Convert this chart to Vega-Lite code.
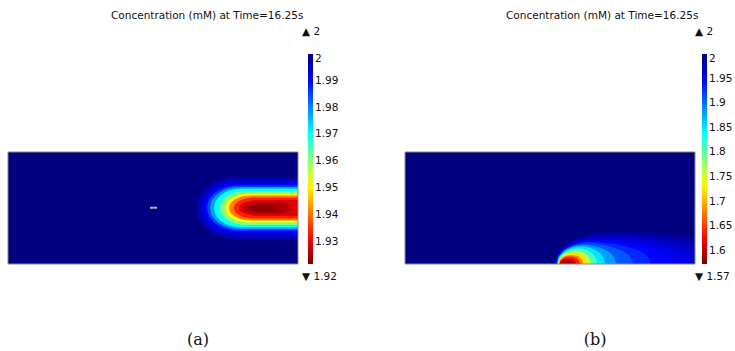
{
  "$schema": "https://vega.github.io/schema/vega-lite/v6.json",
  "autosize": {"type": "pad"},
  "padding": {"left": 7, "top": 11, "right": 0, "bottom": 0},
  "background": "white",
  "config": {
    "view": {"stroke": null},
    "font": "DejaVu Sans",
    "legend": {"orient": "right", "padding": 0, "gradientLength": 210, "gradientThickness": 5, "gradientStrokeWidth": 0, "labelFont": "DejaVu Sans", "labelFontSize": 10.5, "labelColor": "#111", "labelOffset": 1, "labelOverlap": false, "direction": "vertical"}
  },
  "datasets": {
    "frame": [{"x": 0, "x2": 10, "y": 0, "y2": 4, "c": 2}],
    "a": [
      {"l": 1, "c": 1.996, "x": 6.5, "lo": 2, "hi": 2},
      {"l": 1, "c": 1.996, "x": 6.555, "lo": 1.69, "hi": 2.31},
      {"l": 1, "c": 1.996, "x": 6.707, "lo": 1.417, "hi": 2.583},
      {"l": 1, "c": 1.996, "x": 6.983, "lo": 1.159, "hi": 2.841},
      {"l": 1, "c": 1.996, "x": 7.396, "lo": 0.963, "hi": 3.037},
      {"l": 1, "c": 1.996, "x": 7.879, "lo": 0.893, "hi": 3.107},
      {"l": 1, "c": 1.996, "x": 10.5, "lo": 0.893, "hi": 3.107},
      {"l": 2, "c": 1.993, "x": 6.655, "lo": 2, "hi": 2},
      {"l": 2, "c": 1.993, "x": 6.705, "lo": 1.73, "hi": 2.27},
      {"l": 2, "c": 1.993, "x": 6.841, "lo": 1.492, "hi": 2.508},
      {"l": 2, "c": 1.993, "x": 7.089, "lo": 1.267, "hi": 2.733},
      {"l": 2, "c": 1.993, "x": 7.462, "lo": 1.097, "hi": 2.903},
      {"l": 2, "c": 1.993, "x": 7.896, "lo": 1.036, "hi": 2.964},
      {"l": 2, "c": 1.993, "x": 10.5, "lo": 1.036, "hi": 2.964},
      {"l": 3, "c": 1.99, "x": 6.759, "lo": 2, "hi": 2},
      {"l": 3, "c": 1.99, "x": 6.805, "lo": 1.755, "hi": 2.245},
      {"l": 3, "c": 1.99, "x": 6.93, "lo": 1.539, "hi": 2.461},
      {"l": 3, "c": 1.99, "x": 7.157, "lo": 1.335, "hi": 2.665},
      {"l": 3, "c": 1.99, "x": 7.499, "lo": 1.18, "hi": 2.82},
      {"l": 3, "c": 1.99, "x": 7.897, "lo": 1.125, "hi": 2.875},
      {"l": 3, "c": 1.99, "x": 10.5, "lo": 1.125, "hi": 2.875},
      {"l": 4, "c": 1.985, "x": 6.862, "lo": 2, "hi": 2},
      {"l": 4, "c": 1.985, "x": 6.905, "lo": 1.775, "hi": 2.225},
      {"l": 4, "c": 1.985, "x": 7.022, "lo": 1.576, "hi": 2.424},
      {"l": 4, "c": 1.985, "x": 7.236, "lo": 1.389, "hi": 2.611},
      {"l": 4, "c": 1.985, "x": 7.557, "lo": 1.247, "hi": 2.753},
      {"l": 4, "c": 1.985, "x": 7.931, "lo": 1.196, "hi": 2.804},
      {"l": 4, "c": 1.985, "x": 10.5, "lo": 1.196, "hi": 2.804},
      {"l": 5, "c": 1.978, "x": 6.966, "lo": 2, "hi": 2},
      {"l": 5, "c": 1.978, "x": 7.007, "lo": 1.79, "hi": 2.21},
      {"l": 5, "c": 1.978, "x": 7.121, "lo": 1.605, "hi": 2.395},
      {"l": 5, "c": 1.978, "x": 7.328, "lo": 1.43, "hi": 2.57},
      {"l": 5, "c": 1.978, "x": 7.638, "lo": 1.297, "hi": 2.703},
      {"l": 5, "c": 1.978, "x": 8.0, "lo": 1.25, "hi": 2.75},
      {"l": 5, "c": 1.978, "x": 10.5, "lo": 1.25, "hi": 2.75},
      {"l": 6, "c": 1.97, "x": 7.103, "lo": 2, "hi": 2},
      {"l": 6, "c": 1.97, "x": 7.142, "lo": 1.805, "hi": 2.195},
      {"l": 6, "c": 1.97, "x": 7.248, "lo": 1.633, "hi": 2.367},
      {"l": 6, "c": 1.97, "x": 7.441, "lo": 1.471, "hi": 2.529},
      {"l": 6, "c": 1.97, "x": 7.731, "lo": 1.348, "hi": 2.652},
      {"l": 6, "c": 1.97, "x": 8.069, "lo": 1.304, "hi": 2.696},
      {"l": 6, "c": 1.97, "x": 10.5, "lo": 1.304, "hi": 2.696},
      {"l": 7, "c": 1.961, "x": 7.31, "lo": 2, "hi": 2},
      {"l": 7, "c": 1.961, "x": 7.346, "lo": 1.83, "hi": 2.17},
      {"l": 7, "c": 1.961, "x": 7.445, "lo": 1.68, "hi": 2.32},
      {"l": 7, "c": 1.961, "x": 7.624, "lo": 1.539, "hi": 2.461},
      {"l": 7, "c": 1.961, "x": 7.893, "lo": 1.431, "hi": 2.569},
      {"l": 7, "c": 1.961, "x": 8.207, "lo": 1.393, "hi": 2.607},
      {"l": 7, "c": 1.961, "x": 10.5, "lo": 1.393, "hi": 2.607},
      {"l": 8, "c": 1.951, "x": 7.483, "lo": 2, "hi": 2},
      {"l": 8, "c": 1.951, "x": 7.516, "lo": 1.855, "hi": 2.145},
      {"l": 8, "c": 1.951, "x": 7.607, "lo": 1.727, "hi": 2.273},
      {"l": 8, "c": 1.951, "x": 7.773, "lo": 1.606, "hi": 2.394},
      {"l": 8, "c": 1.951, "x": 8.021, "lo": 1.515, "hi": 2.485},
      {"l": 8, "c": 1.951, "x": 8.311, "lo": 1.482, "hi": 2.518},
      {"l": 8, "c": 1.951, "x": 10.5, "lo": 1.482, "hi": 2.518},
      {"l": 9, "c": 1.941, "x": 7.621, "lo": 2, "hi": 2},
      {"l": 9, "c": 1.941, "x": 7.651, "lo": 1.875, "hi": 2.125},
      {"l": 9, "c": 1.941, "x": 7.735, "lo": 1.765, "hi": 2.235},
      {"l": 9, "c": 1.941, "x": 7.887, "lo": 1.661, "hi": 2.339},
      {"l": 9, "c": 1.941, "x": 8.114, "lo": 1.582, "hi": 2.418},
      {"l": 9, "c": 1.941, "x": 8.38, "lo": 1.554, "hi": 2.446},
      {"l": 9, "c": 1.941, "x": 10.5, "lo": 1.554, "hi": 2.446},
      {"l": 10, "c": 1.934, "x": 7.793, "lo": 2, "hi": 2},
      {"l": 10, "c": 1.934, "x": 7.821, "lo": 1.895, "hi": 2.105},
      {"l": 10, "c": 1.934, "x": 7.897, "lo": 1.802, "hi": 2.198},
      {"l": 10, "c": 1.934, "x": 8.035, "lo": 1.715, "hi": 2.285},
      {"l": 10, "c": 1.934, "x": 8.242, "lo": 1.649, "hi": 2.351},
      {"l": 10, "c": 1.934, "x": 8.483, "lo": 1.625, "hi": 2.375},
      {"l": 10, "c": 1.934, "x": 10.5, "lo": 1.625, "hi": 2.375},
      {"l": 11, "c": 1.929, "x": 7.966, "lo": 2, "hi": 2},
      {"l": 11, "c": 1.929, "x": 7.994, "lo": 1.92, "hi": 2.08},
      {"l": 11, "c": 1.929, "x": 8.07, "lo": 1.849, "hi": 2.151},
      {"l": 11, "c": 1.929, "x": 8.208, "lo": 1.783, "hi": 2.217},
      {"l": 11, "c": 1.929, "x": 8.415, "lo": 1.732, "hi": 2.268},
      {"l": 11, "c": 1.929, "x": 8.656, "lo": 1.714, "hi": 2.286},
      {"l": 11, "c": 1.929, "x": 10.5, "lo": 1.714, "hi": 2.286},
      {"l": 12, "c": 1.925, "x": 8.103, "lo": 2, "hi": 2},
      {"l": 12, "c": 1.925, "x": 8.128, "lo": 1.945, "hi": 2.055},
      {"l": 12, "c": 1.925, "x": 8.196, "lo": 1.897, "hi": 2.103},
      {"l": 12, "c": 1.925, "x": 8.32, "lo": 1.851, "hi": 2.149},
      {"l": 12, "c": 1.925, "x": 8.507, "lo": 1.816, "hi": 2.184},
      {"l": 12, "c": 1.925, "x": 8.724, "lo": 1.804, "hi": 2.196},
      {"l": 12, "c": 1.925, "x": 9.241, "lo": 1.804, "hi": 2.196},
      {"l": 12, "c": 1.925, "x": 9.422, "lo": 1.816, "hi": 2.184},
      {"l": 12, "c": 1.925, "x": 9.578, "lo": 1.851, "hi": 2.149},
      {"l": 12, "c": 1.925, "x": 9.681, "lo": 1.897, "hi": 2.103},
      {"l": 12, "c": 1.925, "x": 9.738, "lo": 1.945, "hi": 2.055},
      {"l": 12, "c": 1.925, "x": 9.759, "lo": 2, "hi": 2},
      {"l": 13, "c": 1.9225, "x": 8.31, "lo": 2, "hi": 2},
      {"l": 13, "c": 1.9225, "x": 8.327, "lo": 1.965, "hi": 2.035},
      {"l": 13, "c": 1.9225, "x": 8.372, "lo": 1.934, "hi": 2.066},
      {"l": 13, "c": 1.9225, "x": 8.455, "lo": 1.905, "hi": 2.095},
      {"l": 13, "c": 1.9225, "x": 8.579, "lo": 1.883, "hi": 2.117},
      {"l": 13, "c": 1.9225, "x": 8.724, "lo": 1.875, "hi": 2.125},
      {"l": 13, "c": 1.9225, "x": 8.793, "lo": 1.875, "hi": 2.125},
      {"l": 13, "c": 1.9225, "x": 8.938, "lo": 1.883, "hi": 2.117},
      {"l": 13, "c": 1.9225, "x": 9.062, "lo": 1.905, "hi": 2.095},
      {"l": 13, "c": 1.9225, "x": 9.145, "lo": 1.934, "hi": 2.066},
      {"l": 13, "c": 1.9225, "x": 9.19, "lo": 1.965, "hi": 2.035},
      {"l": 13, "c": 1.9225, "x": 9.207, "lo": 2, "hi": 2}
    ],
    "b": [
      {"l": 1, "c": 1.985, "x": 5.138, "hi": 0},
      {"l": 1, "c": 1.985, "x": 5.217, "hi": 0.32},
      {"l": 1, "c": 1.985, "x": 5.433, "hi": 0.602},
      {"l": 1, "c": 1.985, "x": 5.826, "hi": 0.869},
      {"l": 1, "c": 1.985, "x": 6.416, "hi": 1.071},
      {"l": 1, "c": 1.985, "x": 7.103, "hi": 1.143},
      {"l": 1, "c": 1.985, "x": 8.914, "hi": 1.071},
      {"l": 1, "c": 1.985, "x": 10.466, "hi": 0.869},
      {"l": 1, "c": 1.985, "x": 11.5, "hi": 0.602},
      {"l": 1, "c": 1.985, "x": 12.069, "hi": 0.32},
      {"l": 1, "c": 1.985, "x": 12.276, "hi": 0},
      {"l": 2, "c": 1.975, "x": 5.172, "hi": 0},
      {"l": 2, "c": 1.975, "x": 5.243, "hi": 0.29},
      {"l": 2, "c": 1.975, "x": 5.436, "hi": 0.546},
      {"l": 2, "c": 1.975, "x": 5.788, "hi": 0.787},
      {"l": 2, "c": 1.975, "x": 6.316, "hi": 0.971},
      {"l": 2, "c": 1.975, "x": 6.931, "hi": 1.036},
      {"l": 2, "c": 1.975, "x": 8.5, "hi": 0.971},
      {"l": 2, "c": 1.975, "x": 9.845, "hi": 0.787},
      {"l": 2, "c": 1.975, "x": 10.741, "hi": 0.546},
      {"l": 2, "c": 1.975, "x": 11.234, "hi": 0.29},
      {"l": 2, "c": 1.975, "x": 11.414, "hi": 0},
      {"l": 3, "c": 1.965, "x": 5.19, "hi": 0},
      {"l": 3, "c": 1.965, "x": 5.252, "hi": 0.27},
      {"l": 3, "c": 1.965, "x": 5.425, "hi": 0.508},
      {"l": 3, "c": 1.965, "x": 5.739, "hi": 0.733},
      {"l": 3, "c": 1.965, "x": 6.21, "hi": 0.903},
      {"l": 3, "c": 1.965, "x": 6.759, "hi": 0.964},
      {"l": 3, "c": 1.965, "x": 8.086, "hi": 0.903},
      {"l": 3, "c": 1.965, "x": 9.224, "hi": 0.733},
      {"l": 3, "c": 1.965, "x": 9.983, "hi": 0.508},
      {"l": 3, "c": 1.965, "x": 10.4, "hi": 0.27},
      {"l": 3, "c": 1.965, "x": 10.552, "hi": 0},
      {"l": 4, "c": 1.955, "x": 5.207, "hi": 0},
      {"l": 4, "c": 1.955, "x": 5.262, "hi": 0.25},
      {"l": 4, "c": 1.955, "x": 5.414, "hi": 0.471},
      {"l": 4, "c": 1.955, "x": 5.69, "hi": 0.679},
      {"l": 4, "c": 1.955, "x": 6.103, "hi": 0.837},
      {"l": 4, "c": 1.955, "x": 6.586, "hi": 0.893},
      {"l": 4, "c": 1.955, "x": 7.733, "hi": 0.837},
      {"l": 4, "c": 1.955, "x": 8.716, "hi": 0.679},
      {"l": 4, "c": 1.955, "x": 9.371, "hi": 0.471},
      {"l": 4, "c": 1.955, "x": 9.731, "hi": 0.25},
      {"l": 4, "c": 1.955, "x": 9.862, "hi": 0},
      {"l": 5, "c": 1.945, "x": 5.207, "hi": 0},
      {"l": 5, "c": 1.945, "x": 5.258, "hi": 0.235},
      {"l": 5, "c": 1.945, "x": 5.398, "hi": 0.442},
      {"l": 5, "c": 1.945, "x": 5.653, "hi": 0.638},
      {"l": 5, "c": 1.945, "x": 6.036, "hi": 0.786},
      {"l": 5, "c": 1.945, "x": 6.483, "hi": 0.839},
      {"l": 5, "c": 1.945, "x": 7.424, "hi": 0.786},
      {"l": 5, "c": 1.945, "x": 8.231, "hi": 0.638},
      {"l": 5, "c": 1.945, "x": 8.769, "hi": 0.442},
      {"l": 5, "c": 1.945, "x": 9.066, "hi": 0.235},
      {"l": 5, "c": 1.945, "x": 9.172, "hi": 0},
      {"l": 6, "c": 1.93, "x": 5.224, "hi": 0},
      {"l": 6, "c": 1.93, "x": 5.269, "hi": 0.22},
      {"l": 6, "c": 1.93, "x": 5.392, "hi": 0.414},
      {"l": 6, "c": 1.93, "x": 5.617, "hi": 0.597},
      {"l": 6, "c": 1.93, "x": 5.953, "hi": 0.736},
      {"l": 6, "c": 1.93, "x": 6.345, "hi": 0.786},
      {"l": 6, "c": 1.93, "x": 7.093, "hi": 0.736},
      {"l": 6, "c": 1.93, "x": 7.734, "hi": 0.597},
      {"l": 6, "c": 1.93, "x": 8.162, "hi": 0.414},
      {"l": 6, "c": 1.93, "x": 8.397, "hi": 0.22},
      {"l": 6, "c": 1.93, "x": 8.483, "hi": 0},
      {"l": 7, "c": 1.91, "x": 5.241, "hi": 0},
      {"l": 7, "c": 1.91, "x": 5.281, "hi": 0.205},
      {"l": 7, "c": 1.91, "x": 5.391, "hi": 0.386},
      {"l": 7, "c": 1.91, "x": 5.591, "hi": 0.556},
      {"l": 7, "c": 1.91, "x": 5.891, "hi": 0.686},
      {"l": 7, "c": 1.91, "x": 6.241, "hi": 0.732},
      {"l": 7, "c": 1.91, "x": 6.809, "hi": 0.686},
      {"l": 7, "c": 1.91, "x": 7.295, "hi": 0.556},
      {"l": 7, "c": 1.91, "x": 7.619, "hi": 0.386},
      {"l": 7, "c": 1.91, "x": 7.797, "hi": 0.205},
      {"l": 7, "c": 1.91, "x": 7.862, "hi": 0},
      {"l": 8, "c": 1.88, "x": 5.241, "hi": 0},
      {"l": 8, "c": 1.88, "x": 5.277, "hi": 0.19},
      {"l": 8, "c": 1.88, "x": 5.376, "hi": 0.358},
      {"l": 8, "c": 1.88, "x": 5.555, "hi": 0.516},
      {"l": 8, "c": 1.88, "x": 5.824, "hi": 0.636},
      {"l": 8, "c": 1.88, "x": 6.138, "hi": 0.679},
      {"l": 8, "c": 1.88, "x": 6.536, "hi": 0.636},
      {"l": 8, "c": 1.88, "x": 6.878, "hi": 0.516},
      {"l": 8, "c": 1.88, "x": 7.105, "hi": 0.358},
      {"l": 8, "c": 1.88, "x": 7.231, "hi": 0.19},
      {"l": 8, "c": 1.88, "x": 7.276, "hi": 0},
      {"l": 9, "c": 1.85, "x": 5.259, "hi": 0},
      {"l": 9, "c": 1.85, "x": 5.291, "hi": 0.175},
      {"l": 9, "c": 1.85, "x": 5.38, "hi": 0.329},
      {"l": 9, "c": 1.85, "x": 5.542, "hi": 0.475},
      {"l": 9, "c": 1.85, "x": 5.786, "hi": 0.586},
      {"l": 9, "c": 1.85, "x": 6.069, "hi": 0.625},
      {"l": 9, "c": 1.85, "x": 6.359, "hi": 0.586},
      {"l": 9, "c": 1.85, "x": 6.607, "hi": 0.475},
      {"l": 9, "c": 1.85, "x": 6.772, "hi": 0.329},
      {"l": 9, "c": 1.85, "x": 6.863, "hi": 0.175},
      {"l": 9, "c": 1.85, "x": 6.897, "hi": 0},
      {"l": 10, "c": 1.81, "x": 5.276, "hi": 0},
      {"l": 10, "c": 1.81, "x": 5.305, "hi": 0.155},
      {"l": 10, "c": 1.81, "x": 5.384, "hi": 0.292},
      {"l": 10, "c": 1.81, "x": 5.529, "hi": 0.421},
      {"l": 10, "c": 1.81, "x": 5.747, "hi": 0.519},
      {"l": 10, "c": 1.81, "x": 6.0, "hi": 0.554},
      {"l": 10, "c": 1.81, "x": 6.217, "hi": 0.519},
      {"l": 10, "c": 1.81, "x": 6.403, "hi": 0.421},
      {"l": 10, "c": 1.81, "x": 6.528, "hi": 0.292},
      {"l": 10, "c": 1.81, "x": 6.596, "hi": 0.155},
      {"l": 10, "c": 1.81, "x": 6.621, "hi": 0},
      {"l": 11, "c": 1.76, "x": 5.276, "hi": 0},
      {"l": 11, "c": 1.76, "x": 5.301, "hi": 0.13},
      {"l": 11, "c": 1.76, "x": 5.369, "hi": 0.245},
      {"l": 11, "c": 1.76, "x": 5.493, "hi": 0.353},
      {"l": 11, "c": 1.76, "x": 5.679, "hi": 0.435},
      {"l": 11, "c": 1.76, "x": 5.897, "hi": 0.464},
      {"l": 11, "c": 1.76, "x": 6.078, "hi": 0.435},
      {"l": 11, "c": 1.76, "x": 6.233, "hi": 0.353},
      {"l": 11, "c": 1.76, "x": 6.336, "hi": 0.245},
      {"l": 11, "c": 1.76, "x": 6.393, "hi": 0.13},
      {"l": 11, "c": 1.76, "x": 6.414, "hi": 0},
      {"l": 12, "c": 1.72, "x": 5.293, "hi": 0},
      {"l": 12, "c": 1.72, "x": 5.314, "hi": 0.11},
      {"l": 12, "c": 1.72, "x": 5.373, "hi": 0.207},
      {"l": 12, "c": 1.72, "x": 5.48, "hi": 0.299},
      {"l": 12, "c": 1.72, "x": 5.641, "hi": 0.368},
      {"l": 12, "c": 1.72, "x": 5.828, "hi": 0.393},
      {"l": 12, "c": 1.72, "x": 5.984, "hi": 0.368},
      {"l": 12, "c": 1.72, "x": 6.119, "hi": 0.299},
      {"l": 12, "c": 1.72, "x": 6.209, "hi": 0.207},
      {"l": 12, "c": 1.72, "x": 6.258, "hi": 0.11},
      {"l": 12, "c": 1.72, "x": 6.276, "hi": 0},
      {"l": 13, "c": 1.68, "x": 5.31, "hi": 0},
      {"l": 13, "c": 1.68, "x": 5.328, "hi": 0.09},
      {"l": 13, "c": 1.68, "x": 5.378, "hi": 0.169},
      {"l": 13, "c": 1.68, "x": 5.467, "hi": 0.244},
      {"l": 13, "c": 1.68, "x": 5.602, "hi": 0.301},
      {"l": 13, "c": 1.68, "x": 5.759, "hi": 0.321},
      {"l": 13, "c": 1.68, "x": 5.891, "hi": 0.301},
      {"l": 13, "c": 1.68, "x": 6.005, "hi": 0.244},
      {"l": 13, "c": 1.68, "x": 6.081, "hi": 0.169},
      {"l": 13, "c": 1.68, "x": 6.123, "hi": 0.09},
      {"l": 13, "c": 1.68, "x": 6.138, "hi": 0},
      {"l": 14, "c": 1.64, "x": 5.328, "hi": 0},
      {"l": 14, "c": 1.64, "x": 5.342, "hi": 0.075},
      {"l": 14, "c": 1.64, "x": 5.382, "hi": 0.141},
      {"l": 14, "c": 1.64, "x": 5.454, "hi": 0.204},
      {"l": 14, "c": 1.64, "x": 5.563, "hi": 0.251},
      {"l": 14, "c": 1.64, "x": 5.69, "hi": 0.268},
      {"l": 14, "c": 1.64, "x": 5.81, "hi": 0.251},
      {"l": 14, "c": 1.64, "x": 5.914, "hi": 0.204},
      {"l": 14, "c": 1.64, "x": 5.983, "hi": 0.141},
      {"l": 14, "c": 1.64, "x": 6.021, "hi": 0.075},
      {"l": 14, "c": 1.64, "x": 6.034, "hi": 0},
      {"l": 15, "c": 1.61, "x": 5.345, "hi": 0},
      {"l": 15, "c": 1.61, "x": 5.356, "hi": 0.055},
      {"l": 15, "c": 1.61, "x": 5.386, "hi": 0.103},
      {"l": 15, "c": 1.61, "x": 5.441, "hi": 0.149},
      {"l": 15, "c": 1.61, "x": 5.524, "hi": 0.184},
      {"l": 15, "c": 1.61, "x": 5.621, "hi": 0.196},
      {"l": 15, "c": 1.61, "x": 5.717, "hi": 0.184},
      {"l": 15, "c": 1.61, "x": 5.8, "hi": 0.149},
      {"l": 15, "c": 1.61, "x": 5.855, "hi": 0.103},
      {"l": 15, "c": 1.61, "x": 5.886, "hi": 0.055},
      {"l": 15, "c": 1.61, "x": 5.897, "hi": 0},
      {"l": 16, "c": 1.585, "x": 5.379, "hi": 0},
      {"l": 16, "c": 1.585, "x": 5.386, "hi": 0.035},
      {"l": 16, "c": 1.585, "x": 5.405, "hi": 0.066},
      {"l": 16, "c": 1.585, "x": 5.44, "hi": 0.095},
      {"l": 16, "c": 1.585, "x": 5.491, "hi": 0.117},
      {"l": 16, "c": 1.585, "x": 5.552, "hi": 0.125},
      {"l": 16, "c": 1.585, "x": 5.624, "hi": 0.117},
      {"l": 16, "c": 1.585, "x": 5.686, "hi": 0.095},
      {"l": 16, "c": 1.585, "x": 5.728, "hi": 0.066},
      {"l": 16, "c": 1.585, "x": 5.75, "hi": 0.035},
      {"l": 16, "c": 1.585, "x": 5.759, "hi": 0}
    ],
    "dash": [{"x": 4.897, "x2": 5.138, "y": 2.01}],
    "annA": [
      {"x": 10.14, "y": 8.286, "t": "▲ 2"},
      {"x": 10.14, "y": -0.464, "t": "▼ 1.92"}
    ],
    "annB": [
      {"x": 10.0, "y": 8.286, "t": "▲ 2"},
      {"x": 10.0, "y": -0.464, "t": "▼ 1.57"}
    ],
    "capA": [{"x": 6.552, "y": -2.714, "t": "(a)"}],
    "capB": [{"x": 6.552, "y": -2.714, "t": "(b)"}]
  },
  "hconcat": [
    {
      "width": 290,
      "height": 210,
      "title": {"text": "Concentration (mM) at Time=16.25s", "anchor": "start", "frame": "group", "dx": 103, "offset": 5, "fontSize": 10.5, "fontWeight": "normal", "font": "DejaVu Sans", "color": "#111"},
      "layer": [
        {
          "data": {"name": "frame"},
          "mark": {"type": "rect", "clip": true},
          "encoding": {
            "x": {"field": "x", "type": "quantitative", "scale": {"domain": [0, 10], "nice": false, "zero": false}, "axis": null},
            "x2": {"field": "x2"},
            "y": {"field": "y", "type": "quantitative", "scale": {"domain": [0, 7.5], "nice": false, "zero": false}, "axis": null},
            "y2": {"field": "y2"},
            "color": {"field": "c", "type": "quantitative", "scale": {"domain": [1.9216, 1.9314, 1.951, 1.9706, 1.9902, 2], "range": ["#800000", "#ff0000", "#ffff00", "#00ffff", "#0000ff", "#000080"], "interpolate": "rgb"}, "legend": {"title": null, "offset": 9.5, "format": ".3~g", "values": [2, 1.99, 1.98, 1.97, 1.96, 1.95, 1.94, 1.93]}}
          }
        },
        {
          "data": {"name": "a"},
          "mark": {"type": "area", "clip": true, "interpolate": "monotone"},
          "encoding": {
            "x": {"field": "x", "type": "quantitative", "scale": {"domain": [0, 10], "nice": false, "zero": false}, "axis": null},
            "y": {"field": "lo", "type": "quantitative", "stack": null, "scale": {"domain": [0, 7.5], "nice": false, "zero": false}, "axis": null},
            "y2": {"field": "hi"},
            "detail": {"field": "l", "type": "nominal"},
            "color": {"field": "c", "type": "quantitative", "scale": {"domain": [1.9216, 1.9314, 1.951, 1.9706, 1.9902, 2], "range": ["#800000", "#ff0000", "#ffff00", "#00ffff", "#0000ff", "#000080"], "interpolate": "rgb"}, "legend": {"title": null, "offset": 9.5, "format": ".3~g", "values": [2, 1.99, 1.98, 1.97, 1.96, 1.95, 1.94, 1.93]}}
          }
        },
        {
          "data": {"name": "dash"},
          "mark": {"type": "rule", "color": "#b4b4c4", "strokeWidth": 2},
          "encoding": {
            "x": {"field": "x", "type": "quantitative", "scale": {"domain": [0, 10], "nice": false, "zero": false}, "axis": null},
            "x2": {"field": "x2"},
            "y": {"field": "y", "type": "quantitative", "scale": {"domain": [0, 7.5], "nice": false, "zero": false}, "axis": null}
          }
        },
        {
          "data": {"name": "frame"},
          "mark": {"type": "rect", "filled": false, "stroke": "#888", "strokeWidth": 1},
          "encoding": {
            "x": {"field": "x", "type": "quantitative", "scale": {"domain": [0, 10], "nice": false, "zero": false}, "axis": null},
            "x2": {"field": "x2"},
            "y": {"field": "y", "type": "quantitative", "scale": {"domain": [0, 7.5], "nice": false, "zero": false}, "axis": null},
            "y2": {"field": "y2"}
          }
        },
        {
          "data": {"name": "annA"},
          "mark": {"type": "text", "align": "left", "baseline": "middle", "fontSize": 10.5, "font": "DejaVu Sans", "color": "#111"},
          "encoding": {
            "x": {"field": "x", "type": "quantitative", "scale": {"domain": [0, 10], "nice": false, "zero": false}, "axis": null},
            "y": {"field": "y", "type": "quantitative", "scale": {"domain": [0, 7.5], "nice": false, "zero": false}, "axis": null},
            "text": {"field": "t"}
          }
        },
        {
          "data": {"name": "capA"},
          "mark": {"type": "text", "align": "center", "baseline": "middle", "fontSize": 16, "font": "DejaVu Serif", "color": "#111"},
          "encoding": {
            "x": {"field": "x", "type": "quantitative", "scale": {"domain": [0, 10], "nice": false, "zero": false}, "axis": null},
            "y": {"field": "y", "type": "quantitative", "scale": {"domain": [0, 7.5], "nice": false, "zero": false}, "axis": null},
            "text": {"field": "t"}
          }
        }
      ]
    },
    {
      "width": 290,
      "height": 210,
      "title": {"text": "Concentration (mM) at Time=16.25s", "anchor": "start", "frame": "group", "dx": 101, "offset": 5, "fontSize": 10.5, "fontWeight": "normal", "font": "DejaVu Sans", "color": "#111"},
      "layer": [
        {
          "data": {"name": "frame"},
          "mark": {"type": "rect", "clip": true},
          "encoding": {
            "x": {"field": "x", "type": "quantitative", "scale": {"domain": [0, 10], "nice": false, "zero": false}, "axis": null},
            "x2": {"field": "x2"},
            "y": {"field": "y", "type": "quantitative", "scale": {"domain": [0, 7.5], "nice": false, "zero": false}, "axis": null},
            "y2": {"field": "y2"},
            "color": {"field": "c", "type": "quantitative", "scale": {"domain": [1.573, 1.6264, 1.7331, 1.8399, 1.9466, 2], "range": ["#800000", "#ff0000", "#ffff00", "#00ffff", "#0000ff", "#000080"], "interpolate": "rgb"}, "legend": {"title": null, "offset": 7, "format": ".3~g", "values": [2, 1.95, 1.9, 1.85, 1.8, 1.75, 1.7, 1.65, 1.6]}}
          }
        },
        {
          "data": {"name": "b"},
          "mark": {"type": "area", "clip": true, "interpolate": "monotone"},
          "encoding": {
            "x": {"field": "x", "type": "quantitative", "scale": {"domain": [0, 10], "nice": false, "zero": false}, "axis": null},
            "y": {"field": "hi", "type": "quantitative", "stack": null, "scale": {"domain": [0, 7.5], "nice": false, "zero": false}, "axis": null},
            "y2": {"datum": 0},
            "detail": {"field": "l", "type": "nominal"},
            "color": {"field": "c", "type": "quantitative", "scale": {"domain": [1.573, 1.6264, 1.7331, 1.8399, 1.9466, 2], "range": ["#800000", "#ff0000", "#ffff00", "#00ffff", "#0000ff", "#000080"], "interpolate": "rgb"}, "legend": {"title": null, "offset": 7, "format": ".3~g", "values": [2, 1.95, 1.9, 1.85, 1.8, 1.75, 1.7, 1.65, 1.6]}}
          }
        },
        {
          "data": {"name": "frame"},
          "mark": {"type": "rect", "filled": false, "stroke": "#888", "strokeWidth": 1},
          "encoding": {
            "x": {"field": "x", "type": "quantitative", "scale": {"domain": [0, 10], "nice": false, "zero": false}, "axis": null},
            "x2": {"field": "x2"},
            "y": {"field": "y", "type": "quantitative", "scale": {"domain": [0, 7.5], "nice": false, "zero": false}, "axis": null},
            "y2": {"field": "y2"}
          }
        },
        {
          "data": {"name": "annB"},
          "mark": {"type": "text", "align": "left", "baseline": "middle", "fontSize": 10.5, "font": "DejaVu Sans", "color": "#111"},
          "encoding": {
            "x": {"field": "x", "type": "quantitative", "scale": {"domain": [0, 10], "nice": false, "zero": false}, "axis": null},
            "y": {"field": "y", "type": "quantitative", "scale": {"domain": [0, 7.5], "nice": false, "zero": false}, "axis": null},
            "text": {"field": "t"}
          }
        },
        {
          "data": {"name": "capB"},
          "mark": {"type": "text", "align": "center", "baseline": "middle", "fontSize": 16, "font": "DejaVu Serif", "color": "#111"},
          "encoding": {
            "x": {"field": "x", "type": "quantitative", "scale": {"domain": [0, 10], "nice": false, "zero": false}, "axis": null},
            "y": {"field": "y", "type": "quantitative", "scale": {"domain": [0, 7.5], "nice": false, "zero": false}, "axis": null},
            "text": {"field": "t"}
          }
        }
      ]
    }
  ],
  "spacing": 107,
  "bounds": "flush",
  "resolve": {"scale": {"color": "independent", "x": "independent", "y": "independent"}, "legend": {"color": "independent"}}
}
